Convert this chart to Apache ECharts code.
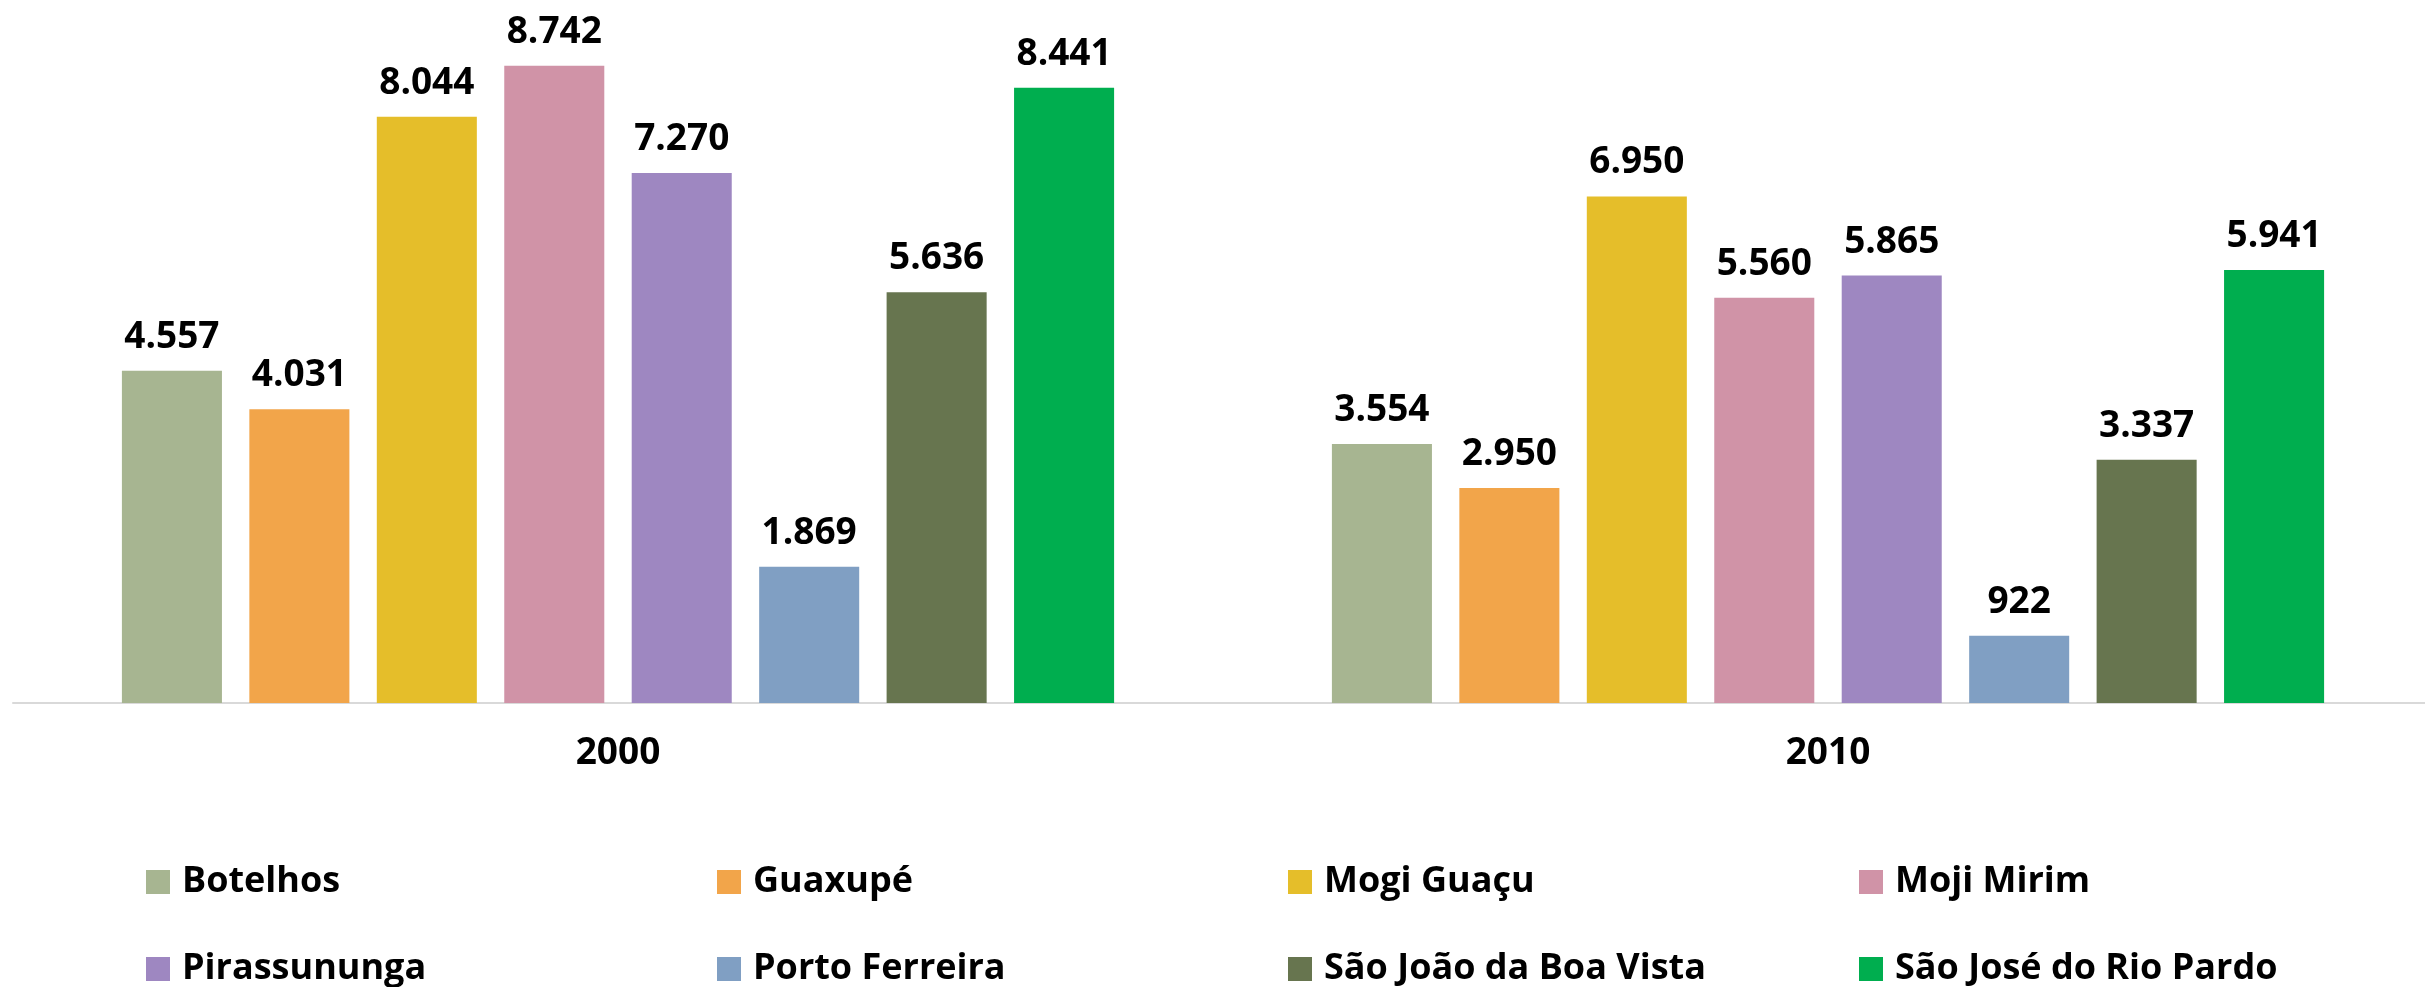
<!DOCTYPE html>
<html>
<head>
<meta charset="utf-8">
<script src="https://cdn.jsdelivr.net/npm/echarts@6/dist/echarts.min.js"></script>
<style>
html,body{margin:0;padding:0;background:#fff;overflow:hidden;width:2425px;height:987px;}
#chart{width:2433px;height:987px;}
</style>
</head>
<body>
<div id="chart"></div>
<script>
const categories = ['2000', '2010'];
const cities = ['Botelhos', 'Guaxupé', 'Mogi Guaçu', 'Moji Mirim', 'Pirassununga', 'Porto Ferreira', 'São João da Boa Vista', 'São José do Rio Pardo'];
const values2000 = [4557, 4031, 8044, 8742, 7270, 1869, 5636, 8441];
const values2010 = [3554, 2950, 6950, 5560, 5865, 922, 3337, 5941];
const colors = ['#A7B591', '#F2A54A', '#E5BE2A', '#D093A7', '#9E87C1', '#809FC3', '#67754F', '#00AE4F'];

const FONT = '"Open Sans", "Noto Sans", sans-serif';
function fmt(v) {
  return String(v).replace(/\B(?=(\d{3})+(?!\d))/g, '.');
}

const series = cities.map((name, i) => ({
  name: name,
  type: 'bar',
  data: [values2000[i], values2010[i]],
  itemStyle: { color: colors[i] },
  barGap: '27.4%',
  barCategoryGap: '18%',
  label: {
    show: true,
    position: 'top',
    distance: 15,
    formatter: p => fmt(p.value),
    fontFamily: FONT,
    fontSize: 37,
    fontWeight: 'bold',
    color: '#000'
  }
}));

const legends = cities.map((name, i) => ({
  data: [name],
  left: 146 + (i % 4) * 571,
  top: i < 4 ? 864 : 951,
  icon: 'rect',
  itemWidth: 24,
  itemHeight: 24,
  selectedMode: false,
  padding: 0,
  textStyle: {
    fontFamily: FONT,
    fontSize: 36,
    fontWeight: 'bold',
    color: '#000',
    padding: [0, 0, 0, 7]
  }
}));

const chart = echarts.init(document.getElementById('chart'));
chart.setOption({
  animation: false,
  backgroundColor: '#fff',
  color: colors,
  grid: { left: 13, top: 47, right: 0, bottom: 284, containLabel: false },
  legend: legends,
  xAxis: {
    type: 'category',
    data: categories,
    axisTick: { show: false },
    axisLine: { show: true, lineStyle: { color: '#d9d9d9', width: 2 } },
    axisLabel: {
      margin: 32,
      fontFamily: FONT,
      fontSize: 37,
      fontWeight: 'bold',
      color: '#000'
    }
  },
  yAxis: {
    type: 'value',
    min: 0,
    max: 9000,
    show: false,
    splitLine: { show: false }
  },
  series: series
});
</script>
</body>
</html>
